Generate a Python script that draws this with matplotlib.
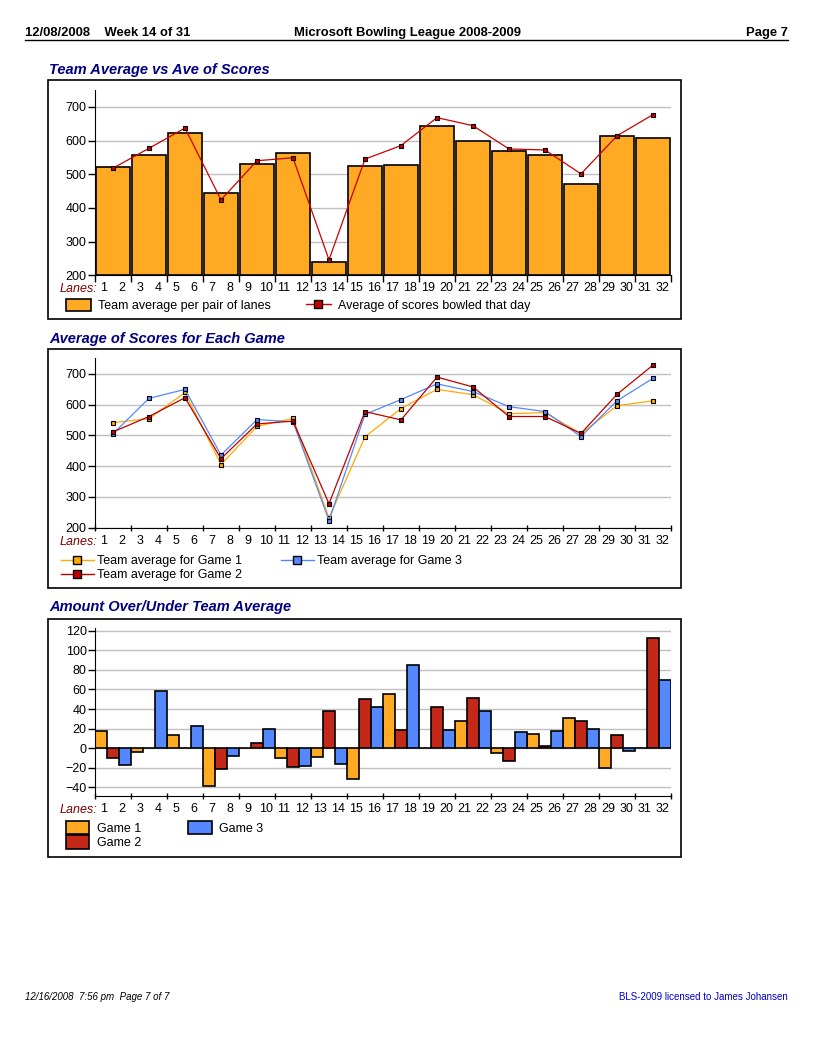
import numpy as np
import matplotlib
matplotlib.use('Agg')
from matplotlib import pyplot as plt
from matplotlib.patches import Rectangle
from matplotlib.lines import Line2D

W, H = 816, 1056

lanes = list(range(1, 33))
pair_centers = [1.5 + 2 * k for k in range(16)]

# chart 1
team_average = [520, 556, 621, 443, 529, 562, 238, 523, 526, 642, 600, 570, 556, 470, 612, 609]
day_average = [518, 577, 637, 424, 540, 549, 246, 545, 585, 668, 644, 575, 572, 501, 614, 677]

# chart 2
game1_avg = [541, 554, 639, 405, 529, 555, 232, 495, 587, 649, 632, 570, 574, 505, 596, 612]
game2_avg = [511, 561, 622, 424, 537, 546, 278, 577, 550, 689, 657, 561, 561, 506, 633, 728]
game3_avg = [505, 620, 649, 436, 551, 544, 223, 568, 616, 667, 642, 593, 577, 496, 612, 685]

# chart 3
game1_diff = [18, -4, 14, -39, 0, -10, -9, -31, 55, 0, 28, -5, 15, 31, -20, 0]
game2_diff = [-10, 0, 0, -21, 5, -19, 38, 50, 19, 42, 51, -13, 2, 28, 14, 113]
game3_diff = [-17, 58, 23, -8, 20, -18, -16, 42, 85, 19, 38, 17, 18, 20, -3, 70]

orange = '#FFAA22'
red = '#C42818'
blue = '#5588FF'
navy = '#000080'

plt.rcParams['font.family'] = ['Liberation Sans', 'DejaVu Sans']
plt.rcParams['font.size'] = 9

fig = plt.figure(figsize=(W / 100, H / 100), dpi=100)


def px_axes(x0, y_top, x1, y_bottom):
    return fig.add_axes([x0 / W, 1 - y_bottom / H, (x1 - x0) / W, (y_bottom - y_top) / H])


def box(x0, y0, x1, y1):
    fig.add_artist(Rectangle((x0 / W, 1 - y1 / H), (x1 - x0) / W, (y1 - y0) / H,
                             transform=fig.transFigure, fill=False, lw=1.2, ec='black'))


def setup(ax, ylim, yticks, tickdir='out'):
    ax.set_xlim(0.5, 32.5)
    ax.set_ylim(*ylim)
    ax.set_yticks(yticks)
    ax.set_xticks(np.arange(0.5, 33, 2))
    ax.set_xticklabels([])
    ax.set_xticks(lanes, minor=True)
    ax.set_xticklabels([str(l) for l in lanes], minor=True)
    ax.tick_params(axis='x', which='minor', length=0, pad=5)
    ax.tick_params(axis='x', which='major', length=5, width=1, direction=tickdir)
    ax.tick_params(axis='y', length=5, width=1, pad=1)
    ax.grid(axis='y', color='#c0c0c0', lw=1)
    ax.set_axisbelow(True)
    for s in ['top', 'right']:
        ax.spines[s].set_visible(False)
    ax.annotate('Lanes:', xy=(0, 0), xycoords='axes fraction', xytext=(2, -14),
                textcoords='offset pixels', ha='right', va='center',
                style='italic', color='#800000')


# header / footer
fig.text(25 / W, 1 - 33 / H, '12/08/2008    Week 14 of 31',
         weight='bold', fontsize=9.4, va='center', ha='left')
fig.text(407 / W, 1 - 33 / H, 'Microsoft Bowling League 2008-2009',
         weight='bold', fontsize=9.4, va='center', ha='center')
fig.text(788 / W, 1 - 33 / H, 'Page 7',
         weight='bold', fontsize=9.4, va='center', ha='right')
fig.add_artist(Line2D([25 / W, 788 / W], [1 - 40 / H, 1 - 40 / H], color='black', lw=1))
fig.text(25 / W, 1 - 997 / H, '12/16/2008  7:56 pm  Page 7 of 7',
         style='italic', fontsize=7, va='center', ha='left')
fig.text(788 / W, 1 - 997 / H, 'BLS-2009 licensed to James Johansen',
         color='#0000CC', fontsize=7, va='center', ha='right')

titles = [('Team Average vs Ave of Scores', 70),
          ('Average of Scores for Each Game', 339),
          ('Amount Over/Under Team Average', 607)]
for t, y in titles:
    fig.text(49 / W, 1 - y / H, t, weight='bold', style='italic',
             fontsize=10.5, color=navy, va='center', ha='left')

box(48, 80, 681, 319)
box(48, 349, 681, 588)
box(48, 619, 681, 857)

# chart 1
ax1 = px_axes(95, 90, 671, 275.3)
setup(ax1, (200, 750), range(200, 701, 100))
ax1.bar(pair_centers, [v - 200 for v in team_average], bottom=200, width=1.92,
        color=orange, edgecolor='black', lw=1.2, zorder=2)
ax1.plot(pair_centers, day_average, color='#CC0000', lw=0.9, marker='s', ms=3.3,
         mfc='#CC0000', mec='black', mew=0.8, zorder=3)
h1 = [Rectangle((0, 0), 1, 1, fc=orange, ec='black', lw=1.2),
      Line2D([], [], color='#CC0000', lw=1, marker='s', ms=6, mfc='#CC0000', mec='black', mew=1)]
ax1.legend(h1, ['Team average per pair of lanes', 'Average of scores bowled that day'],
           ncol=2, loc='upper left', bbox_to_anchor=(66 / W, 1 - 299 / H),
           bbox_transform=fig.transFigure, frameon=False, borderpad=0, borderaxespad=0,
           handlelength=2.0, handleheight=1.1, handletextpad=0.55, columnspacing=2.8)

# chart 2
ax2 = px_axes(95, 358.3, 671, 527.7)
setup(ax2, (200, 750), range(200, 701, 100), tickdir='inout')
for vals, c in [(game1_avg, '#FFAA00'), (game3_avg, blue), (game2_avg, '#C00000')]:
    ax2.plot(pair_centers, vals, color=c, lw=0.9, marker='s', ms=3.5, mfc=c,
             mec='black', mew=0.8, zorder=3)
h2 = [Line2D([], [], color=c, lw=1, marker='s', ms=6, mfc=c, mec='black', mew=1)
      for c in ['#FFAA00', '#C00000', blue]]
ax2.legend(h2, ['Team average for Game 1', 'Team average for Game 2', 'Team average for Game 3'],
           ncol=2, loc='upper left', bbox_to_anchor=(61 / W, 1 - 555 / H),
           bbox_transform=fig.transFigure, frameon=False, borderpad=0, borderaxespad=0,
           handlelength=2.6, handletextpad=0.3, columnspacing=3.1, labelspacing=0.15)

# chart 3
ax3 = px_axes(95, 627.7, 671, 796.3)
setup(ax3, (-49, 123), range(-40, 121, 20), tickdir='inout')
bw = 2 / 3
starts = [0.5 + 2 * k for k in range(16)]
for j, (vals, c) in enumerate([(game1_diff, orange), (game2_diff, red), (game3_diff, blue)]):
    ax3.bar([s + bw * (j + 0.5) for s in starts], vals, width=bw * 0.96, color=c,
            edgecolor='black', lw=1.2, zorder=2)
h3 = [Rectangle((0, 0), 1, 1, fc=c, ec='black', lw=1.2) for c in [orange, red, blue]]
ax3.legend(h3, ['Game 1', 'Game 2', 'Game 3'],
           ncol=2, loc='upper left', bbox_to_anchor=(66 / W, 1 - 821 / H),
           bbox_transform=fig.transFigure, frameon=False, borderpad=0, borderaxespad=0,
           handlelength=1.85, handleheight=1.25, handletextpad=0.6, columnspacing=3.8,
           labelspacing=0.05)

fig.savefig('out.png', dpi=100)
